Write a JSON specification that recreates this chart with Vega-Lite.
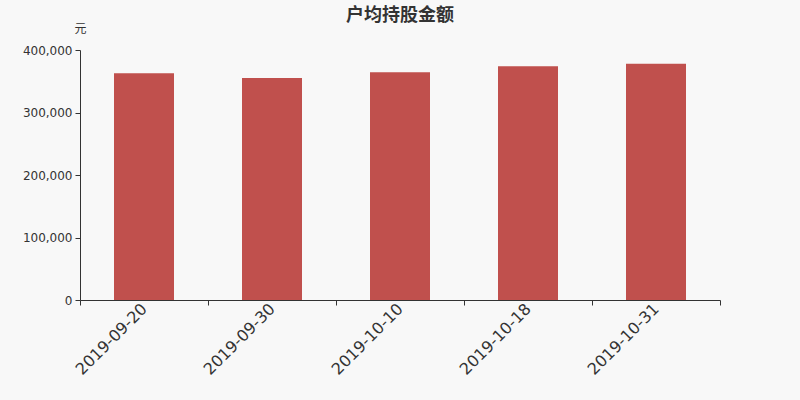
{
  "$schema": "https://vega.github.io/schema/vega-lite/v6.json",
  "width": 640,
  "height": 250,
  "autosize": {"type": "none"},
  "padding": {"left": 80, "top": 50, "right": 80, "bottom": 100},
  "background": "#f8f8f8",
  "title": {
    "text": "户均持股金额",
    "anchor": "middle",
    "font": "Noto Sans CJK SC",
    "fontSize": 18,
    "fontWeight": "bold",
    "color": "#333333",
    "frame": "group",
    "offset": -3
  },
  "data": {
    "values": [
      {"date": "2019-09-20", "amount": 362700},
      {"date": "2019-09-30", "amount": 355200},
      {"date": "2019-10-10", "amount": 364500},
      {"date": "2019-10-18", "amount": 374000},
      {"date": "2019-10-31", "amount": 378000}
    ]
  },
  "mark": {"type": "bar", "color": "#c0504d", "width": {"band": 0.46875}},
  "encoding": {
    "x": {
      "field": "date",
      "type": "nominal",
      "sort": null,
      "scale": {"paddingInner": 0, "paddingOuter": 0},
      "axis": {
        "title": null,
        "labelAngle": -45,
        "labelAlign": "right",
        "labelBaseline": "middle",
        "labelFontSize": 16,
        "labelPadding": 1,
        "tickBand": "extent",
        "tickSize": 5
      }
    },
    "y": {
      "field": "amount",
      "type": "quantitative",
      "scale": {"domain": [0, 400000]},
      "axis": {
        "title": "元",
        "titleAngle": 0,
        "titleX": 0,
        "titleY": -22,
        "titleAlign": "center",
        "titleBaseline": "middle",
        "titleFont": "Noto Sans CJK SC",
        "titleFontSize": 12,
        "titleFontWeight": "normal",
        "titleColor": "#333333",
        "values": [0, 100000, 200000, 300000, 400000],
        "format": ",d",
        "grid": false,
        "tickSize": 5,
        "labelFontSize": 12,
        "labelPadding": 3
      }
    }
  },
  "config": {
    "font": "DejaVu Sans",
    "view": {"stroke": null},
    "axis": {
      "domainColor": "#333333",
      "tickColor": "#333333",
      "labelColor": "#333333",
      "labelFont": "DejaVu Sans"
    }
  }
}
